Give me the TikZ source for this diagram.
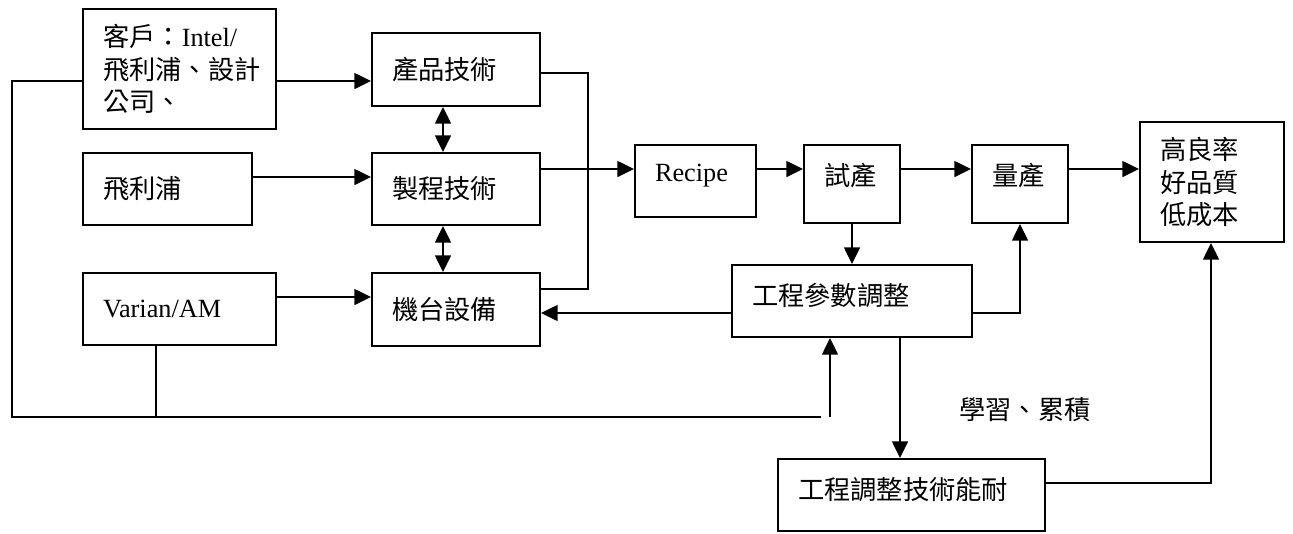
\documentclass[tikz,border=0pt]{standalone}
\usepackage{fontspec}
\setmainfont{Liberation Serif}
\newfontfamily\cjk{Noto Sans CJK TC}
\usetikzlibrary{arrows.meta}
\begin{document}
\begin{tikzpicture}[x=0.75pt,y=-0.75pt,
  box/.style={draw, line width=1.5pt, inner xsep=15pt, inner ysep=0pt, align=left,
    font=\fontsize{19.7pt}{24.5pt}\selectfont\cjk},
  lbl/.style={inner sep=0pt, font=\fontsize{19.7pt}{24.5pt}\selectfont\cjk},
  ln/.style={line width=1.1pt},
  arr/.style={ln, -{Triangle[length=12.5pt,width=12pt]}},
  darr/.style={ln, {Triangle[length=12.5pt,width=12pt]}-{Triangle[length=12.5pt,width=12pt]}}]
\fill[white] (0,0) rectangle (1293,533);
\useasboundingbox (0,0) rectangle (1293,533);

% boxes
\node[box, text width=114.75pt, minimum height=90pt] (cust) at (179.5,69) {客戶：{\rmfamily Intel/}\\飛利浦、設計\\公司、};
\node[box, text width=96.75pt, minimum height=54pt] (phil) at (167.5,189) {飛利浦};
\node[box, text width=114.75pt, minimum height=54pt] (var) at (179.5,309) {\rmfamily Varian/AM};
\node[box, text width=96pt, minimum height=54.75pt] (prod) at (456,69.5) {產品技術};
\node[box, text width=96pt, minimum height=54pt] (proc) at (456,189) {製程技術};
\node[box, text width=96pt, minimum height=54.75pt] (mach) at (456,309.5) {機台設備};
\node[box, text width=60.75pt, minimum height=54pt, text depth=12pt] (recipe) at (695.5,181) {\rmfamily Recipe};
\node[box, text width=42pt, minimum height=58.5pt, text depth=15pt] (trial) at (852,184) {試產};
\node[box, text width=42pt, minimum height=58.5pt, text depth=15pt] (mass) at (1020,184) {量產};
\node[box, text width=150pt, minimum height=54pt, text depth=10pt] (param) at (852,301) {工程參數調整};
\node[box, text width=170.25pt, minimum height=54pt, text depth=10pt] (skill) at (911.5,495) {工程調整技術能耐};
\node[box, text width=78pt, minimum height=90pt] (result) at (1212,182) {高良率\\好品質\\低成本};
\node[lbl] (learn) at (1025,410) {學習、累積};

% helper coordinates
\coordinate (h81) at (0,81);
\coordinate (h177) at (0,177);
\coordinate (h297) at (0,297);
\coordinate (h169) at (0,169);
\coordinate (h313) at (0,313);
\coordinate (v443) at (443,0);
\coordinate (v852) at (852,0);
\coordinate (v900) at (900,0);
\coordinate (j1) at (588,73);
\coordinate (j2) at (588,289);
\coordinate (j3) at (1020,313);
\coordinate (j4) at (1211,483);
\coordinate (j5) at (12,81);
\coordinate (j6) at (12,417);
\coordinate (j7) at (156,417);
\coordinate (loopend) at (821,417);
\coordinate (fb) at (830,417);

% connectors
\draw[arr] (cust.east |- h81) -- (prod.west |- h81);
\draw[arr] (phil.east |- h177) -- (proc.west |- h177);
\draw[arr] (var.east |- h297) -- (mach.west |- h297);
\draw[darr] (prod.south -| v443) -- (proc.north -| v443);
\draw[darr] (proc.south -| v443) -- (mach.north -| v443);
\draw[ln] (prod.east |- j1) -- (j1) -- (j2) -- (mach.east |- j2);
\draw[arr] (proc.east |- h169) -- (recipe.west |- h169);
\draw[arr] (recipe.east |- h169) -- (trial.west |- h169);
\draw[arr] (trial.east |- h169) -- (mass.west |- h169);
\draw[arr] (mass.east |- h169) -- (result.west |- h169);
\draw[arr] (trial.south -| v852) -- (param.north -| v852);
\draw[arr] (param.west |- h313) -- (mach.east |- h313);
\draw[arr] (param.east |- h313) -- (j3) -- (mass.south -| j3);
\draw[arr] (param.south -| v900) -- (skill.north -| v900);
\draw[arr] (skill.east |- j4) -- (j4) -- (result.south -| j4);
\draw[ln] (cust.west |- j5) -- (j5) -- (j6) -- (loopend);
\draw[ln] (var.south -| j7) -- (j7);
\draw[arr] (fb) -- (param.south -| fb);
\end{tikzpicture}
\end{document}
